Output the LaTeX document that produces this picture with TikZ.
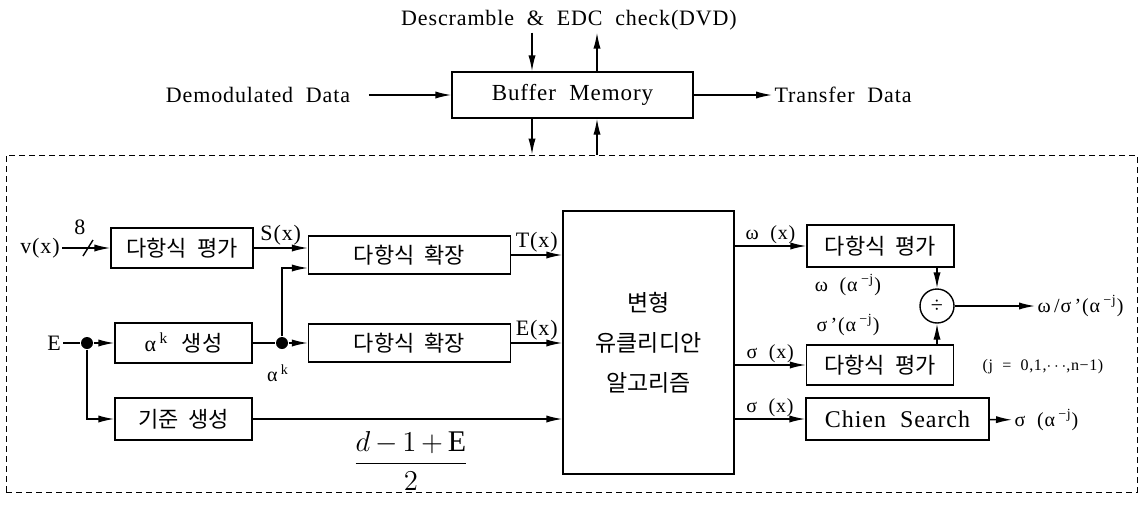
\documentclass[tikz,border=0pt]{standalone}
\usepackage{fontspec}
\setmainfont{Liberation Serif}[LetterSpace=4,WordSpace=2]
\newfontfamily\kr{Noto Sans CJK KR}[WordSpace=2]
\usepackage{tikz}
\usetikzlibrary{positioning,arrows,arrows.meta,shapes}

\begin{document}
\begin{tikzpicture}[x=0.5pt,y=-0.5pt,line width=0.7pt,>={Latex[length=8pt,width=3.6pt]},
    box/.style={rectangle, draw, minimum height=20pt, inner sep=2pt, font=\kr\fontsize{11}{13}\selectfont},
    lbl/.style={inner sep=1pt, font=\fontsize{10}{12}\selectfont},
    big/.style={inner sep=1pt, font=\fontsize{11}{13}\selectfont},
    dot/.style={circle, fill, inner sep=0pt, minimum size=6pt}]
      \useasboundingbox (0,0) rectangle (1147,509);
      \node (ecc) at (571.5,323.5) [rectangle, draw, densely dashed, thin, minimum width=565.5pt, minimum height=168.5pt] {};
      \node (desc) at (569,20) [big] {Descramble \& EDC check(DVD)};
      \node (buf) at (572.5,95) [box, minimum width=120.5pt, minimum height=23pt, font=\fontsize{11.5}{13}\selectfont] {Buffer Memory};
      \node (demod) at (258,95) [big] {Demodulated Data};
      \node (xfer) at (772,95) [big, anchor=west] {Transfer Data};
      \coordinate (dn) at (532,0);
      \coordinate (up) at (597,0);
      \draw[->, shorten <=8pt] (demod) -- (buf);
      \draw[->] (buf) -- (xfer);
      \draw[->] (desc.south -| dn) -- (buf.north -| dn);
      \draw[->] (buf.north -| up) -- (desc.south -| up);
      \draw[->] (buf.south -| dn) -- (ecc.north -| dn);
      \draw[->] (ecc.north -| up) -- (buf.south -| up);

      \node (vx) at (40,248) [big] {v(x)};
      \node (pe1) at (182,248) [box, minimum width=71pt] {다항식 평가};
      \node (ex1) at (409.5,255) [box, minimum width=101pt, minimum height=19pt] {다항식 확장};
      \node (E) at (54,343) [big] {E};
      \node (dot1) at (87,343) [dot] {};
      \node (ak) at (183.5,343) [box, minimum width=68.5pt] {{\rmfamily α\,\textsuperscript{k}}\, 생성};
      \node (dot2) at (282,343) [dot] {};
      \node (ex2) at (409.5,343) [box, minimum width=101pt, minimum height=19pt] {다항식 확장};
      \node (ref) at (183.5,419) [box, minimum width=68.5pt, minimum height=21pt] {기준 생성};
      \node (big) at (648.5,342.5) [box, minimum width=85.5pt, minimum height=131.5pt, align=center, font=\kr\fontsize{11.5}{20}\selectfont] {변형\\유클리디안\\알고리즘};
      \node (rpe1) at (880.5,246) [box, minimum width=73.5pt, minimum height=21pt] {다항식 평가};
      \node (rpe2) at (880,365) [box, minimum width=73.5pt] {다항식 평가};
      \node (chien) at (897.5,419) [box, minimum width=91.5pt, minimum height=21pt, font=\fontsize{12}{14}\selectfont] {Chien Search};
      \node (div) at (937,306) [circle, draw, minimum size=17pt, inner sep=0pt, font=\fontsize{11}{13}\selectfont] {÷};

      \coordinate (bus) at (88,248);
      \draw[->] (vx) -- (pe1);
      \draw (bus) +(-5,8) -- +(5,-8);
      \node (w8) at (80,227) [big] {8};
      \draw[->] (pe1.east) -- (pe1.east -| ex1.west) node[midway, above, lbl, font=\fontsize{11}{13}\selectfont] {S(x)};
      \draw[->] (ex1.east) -- (ex1.east -| big.west) node[midway, above, lbl, font=\fontsize{11}{13}\selectfont] {T(x)};
      \draw (E) -- (dot1);
      \draw[->] (dot1) -- (ak);
      \draw[->] (dot1) |- (ref);
      \draw (ak) -- (dot2);
      \draw[->] (dot2) -- (ex2);
      \draw[->] (dot2) |- ([yshift=-6.5pt]ex1.west);
      \node (aklbl) at (278,373) [lbl] {α\,\textsuperscript{k}};
      \draw[->] (ex2.east) -- (ex2.east -| big.west) node[midway, above, lbl, font=\fontsize{11}{13}\selectfont] {E(x)};
      \draw[->] (ref) -- (ref -| big.west);
      \node (frac) at (411,461) [font=\fontsize{15}{17}\selectfont] {$\displaystyle\frac{d\,{-}\,1\,{+}\,\mathrm{E}}{2}$};

      \draw[->] (big.east |- rpe1.west) -- (rpe1.west) node[midway, above, lbl] {ω (x)};
      \draw[->] (big.east |- rpe2.west) -- (rpe2.west) node[midway, above, lbl] {σ (x)};
      \draw[->] (big.east |- chien.west) -- (chien.west) node[midway, above, lbl] {σ (x)};
      \draw[->] (rpe1.south -| div) -- (div.north);
      \draw[->] (rpe2.north -| div) -- (div.south);
      \node (wlbl) at (848,285) [lbl] {ω (α\,\textsuperscript{−j})};
      \node (slbl) at (848,325) [lbl] {σ\,'(α\,\textsuperscript{−j})};
      \node (jlbl) at (1043,367) [lbl, font=\fontsize{8}{10}\selectfont] {(j = 0,1,$\cdots$,n−1)};
      \node (out1) at (1035,306) [lbl, anchor=west] {ω\,/σ\,'(α\,\textsuperscript{−j})};
      \node (out2) at (1012,420) [lbl, anchor=west] {σ (α\,\textsuperscript{−j})};
      \draw[->] (div) -- (out1);
      \draw[->] (chien) -- (out2);
\end{tikzpicture}
\end{document}
